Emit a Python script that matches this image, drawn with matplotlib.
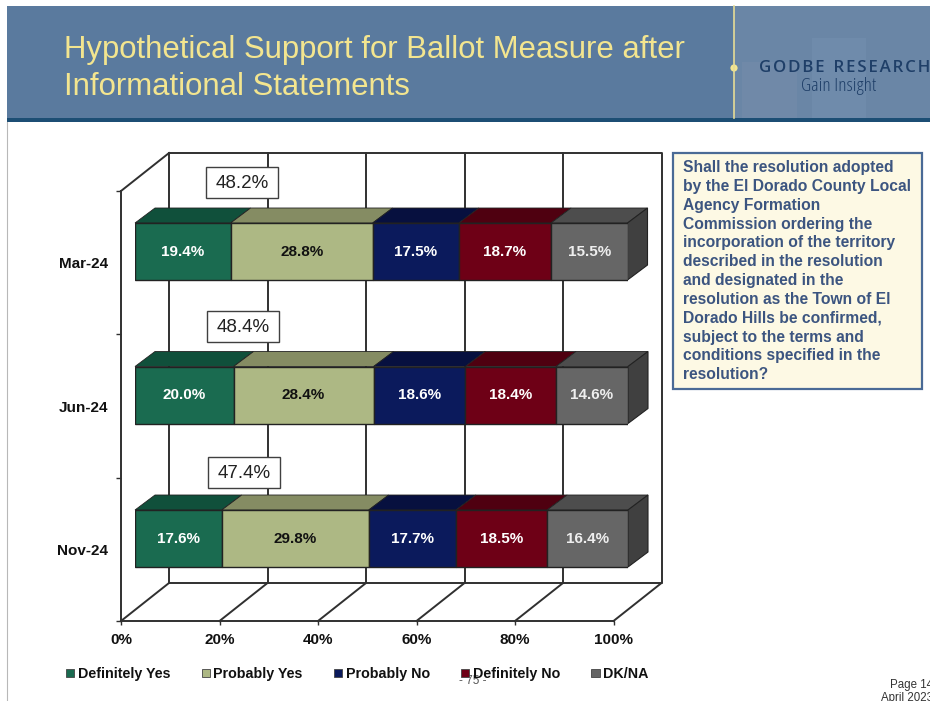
import matplotlib
matplotlib.use("Agg")
import matplotlib.pyplot as plt
from matplotlib.patches import Patch, Polygon, Rectangle, Circle

plt.rcParams['font.family'] = ['Liberation Sans', 'DejaVu Sans']

periods = ["Mar-24", "Jun-24", "Nov-24"]
series = ["Definitely Yes", "Probably Yes", "Probably No", "Definitely No", "DK/NA"]
definitely_yes = [19.4, 20.0, 17.6]
probably_yes = [28.8, 28.4, 29.8]
probably_no = [17.5, 18.6, 17.7]
definitely_no = [18.7, 18.4, 18.5]
dk_na = [15.5, 14.6, 16.4]
values = [definitely_yes, probably_yes, probably_no, definitely_no, dk_na]
totals = ["48.2%", "48.4%", "47.4%"]
total_box_x = [206, 207, 208]
total_box_y = [167, 311, 457]
x_ticks = [0, 20, 40, 60, 80, 100]

front = ["#1a6b50", "#adb884", "#0b1a5c", "#6e0016", "#666666"]
top = ["#10503b", "#858c63", "#07103f", "#4f0010", "#4d4d4d"]
side = "#404040"
label_col = ["white", "#111111", "white", "white", "#eeeeee"]
line_col = "#303030"

W, H = 930, 701
fig = plt.figure(figsize=(W / 100, H / 100), dpi=100, facecolor="white")


def axes_px(x0, y0, x1, y1, **kw):
    return fig.add_axes([x0 / W, 1 - y1 / H, (x1 - x0) / W, (y1 - y0) / H], **kw)


# Pixel-space decoration layer
bg = axes_px(0, 0, W, H, zorder=0)
bg.set_xlim(0, W)
bg.set_ylim(H, 0)
bg.axis("off")

# Header
bg.add_patch(Rectangle((7, 6), W - 7, 112, fc="#5a7a9e", ec="none"))
bg.add_patch(Rectangle((734, 6), W - 734, 112, fc="#6a86a6", ec="none"))
bg.add_patch(Rectangle((812, 38), 54, 80, fc="#6f8bab", ec="none"))
bg.add_patch(Rectangle((742, 62), 55, 56, fc="#7089a8", ec="none"))
bg.add_patch(Rectangle((7, 118), W - 7, 4, fc="#1c4e74", ec="none"))
bg.plot([7, 7], [122, H], color="#b8b8b8", lw=0.8)
bg.plot([734, 734], [6, 118], color="#e6dc96", lw=1.2)
bg.add_patch(Circle((734, 68), 3.6, fc="#f3e58f", ec="none"))
bg.text(64, 50, "Hypothetical Support for Ballot Measure after", color="#f3e58f",
        fontsize=22.43, va="center", ha="left")
bg.text(64, 87, "Informational Statements", color="#f3e58f",
        fontsize=22.43, va="center", ha="left")
logo = "  ".join("\u200a".join(word) for word in ["GODBE", "RESEARCH"])
bg.text(759, 68, logo, color="#1f3f68", fontsize=12.2, fontweight="semibold",
        family=["Open Sans", "DejaVu Sans"], va="center", ha="left")
bg.text(839, 86, "Gain Insight", color="#1f3f68", fontsize=14,
        family=["Open Sans", "DejaVu Sans"], va="center", ha="center", stretch="condensed")

# 3-D back wall and floor
BDX, BDY = 48, -38
FX0, FX1, FY0, FY1 = 121, 613.5, 191, 621
bx0, bx1, by0, by1 = FX0 + BDX, FX1 + BDX, FY0 + BDY, FY1 + BDY
bg.plot([bx0, bx1, bx1, bx0, bx0], [by0, by0, by1, by1, by0], color=line_col, lw=1.4)
bg.plot([FX0, bx0], [FY0, by0], color=line_col, lw=1.4)
for t in x_ticks:
    fx = FX0 + (FX1 - FX0) * t / 100
    bg.plot([fx, fx + BDX], [FY1, by1], color=line_col, lw=1.4)
    if 0 < t < 100:
        bg.plot([fx + BDX] * 2, [by0, by1], color=line_col, lw=1.4)

# Front axes: real percent and category scales
ax = axes_px(FX0, FY0, FX1, FY1, zorder=1)
ax.patch.set_alpha(0)
ax.set_xlim(0, 100)
ax.set_ylim(3, 0)
for s in ("top", "right"):
    ax.spines[s].set_visible(False)
for s in ("left", "bottom"):
    ax.spines[s].set_color(line_col)
    ax.spines[s].set_linewidth(1.4)
ax.set_xticks(x_ticks)
ax.set_xticklabels([f"{t}%" for t in x_ticks], fontsize=11, fontweight="bold", color="#111111")
ax.set_yticks([0.5, 1.5, 2.5])
ax.set_yticklabels(periods, fontsize=11, fontweight="bold", color="#111111")
ax.set_yticks([0, 1, 2, 3], minor=True)
ax.tick_params(axis="y", which="major", length=0, pad=9)
ax.tick_params(axis="y", which="minor", length=3.5, width=1, color=line_col)
ax.tick_params(axis="x", length=3, width=1, color=line_col, pad=6)

# Bars: x is percent, y is row index
bar_ax = axes_px(135, 251.5 - 0.5 * 143.5, 628, 251.5 + 2.5 * 143.5, zorder=2)
bar_ax.patch.set_alpha(0)
bar_ax.set_xlim(0, 100)
bar_ax.set_ylim(2.5, -0.5)
bar_ax.axis("off")
BAR_H = 57 / 143.5
DX = 20 / 4.93
DY = 15 / 143.5
for row in range(len(periods)):
    left = 0
    for k, vals in enumerate(values):
        v = vals[row]
        bar_ax.barh(row, v, left=left, height=BAR_H, color=front[k], edgecolor="#222222",
                    linewidth=1, zorder=3)
        t = row - BAR_H / 2
        bar_ax.add_patch(Polygon([(left, t), (left + v, t), (left + v + DX, t - DY), (left + DX, t - DY)],
                                 closed=True, fc=top[k], ec="#222222", lw=0.6, clip_on=False, zorder=2))
        bar_ax.text(left + v / 2, row, f"{v:.1f}%", color=label_col[k], fontsize=11,
                    fontweight="bold", ha="center", va="center", zorder=4)
        left += v
    b = row + BAR_H / 2
    t = row - BAR_H / 2
    bar_ax.add_patch(Polygon([(left, t), (left + DX, t - DY), (left + DX, b - DY), (left, b)],
                             closed=True, fc=side, ec="#222222", lw=0.8, clip_on=False, zorder=2))

# Overlay layer: total boxes, callout, footer
fg = axes_px(0, 0, W, H, zorder=3)
fg.patch.set_alpha(0)
fg.set_xlim(0, W)
fg.set_ylim(H, 0)
fg.axis("off")
for label, bx, by in zip(totals, total_box_x, total_box_y):
    fg.add_patch(Rectangle((bx, by), 72, 31, fc="white", ec="#404040", lw=1))
    fg.text(bx + 36, by + 16, label, fontsize=13.5, color="#222222", ha="center", va="center")

fg.add_patch(Rectangle((673, 153), 249, 236, fc="#fdf9e4", ec="#4a6a96", lw=1.6))
question = ["Shall the resolution adopted", "by the El Dorado County Local", "Agency Formation",
            "Commission ordering the", "incorporation of the territory", "described in the resolution",
            "and designated in the", "resolution as the Town of El", "Dorado Hills be confirmed,",
            "subject to the terms and", "conditions specified in the", "resolution?"]
fg.text(683, 160, "\n".join(question), color="#3c5580", fontsize=11.25, fontweight="bold",
        ha="left", va="top", linespacing=1.32)

fg.text(473, 681, "- 75 -", color="#555555", fontsize=8.5, ha="center", va="center")
fg.text(890, 685, "Page 14", color="#333333", fontsize=8.3, ha="left", va="center", clip_on=False)
fg.text(881, 698, "April 2023", color="#333333", fontsize=8.3, ha="left", va="center", clip_on=False)

handles = [Patch(fc=c, ec="#444444", lw=0.6) for c in front]
leg = fig.legend(handles, series, ncol=5, loc="center left", bbox_to_anchor=(66 / W, 1 - 674 / H),
                 frameon=False, fontsize=10.3, handlelength=0.56, handleheight=0.56,
                 handletextpad=0.25, columnspacing=2.2, borderpad=0, borderaxespad=0)
for t in leg.get_texts():
    t.set_fontweight("bold")
    t.set_color("#111111")
leg.set_zorder(5)

fig.savefig("out.png", dpi=100, facecolor="white")
